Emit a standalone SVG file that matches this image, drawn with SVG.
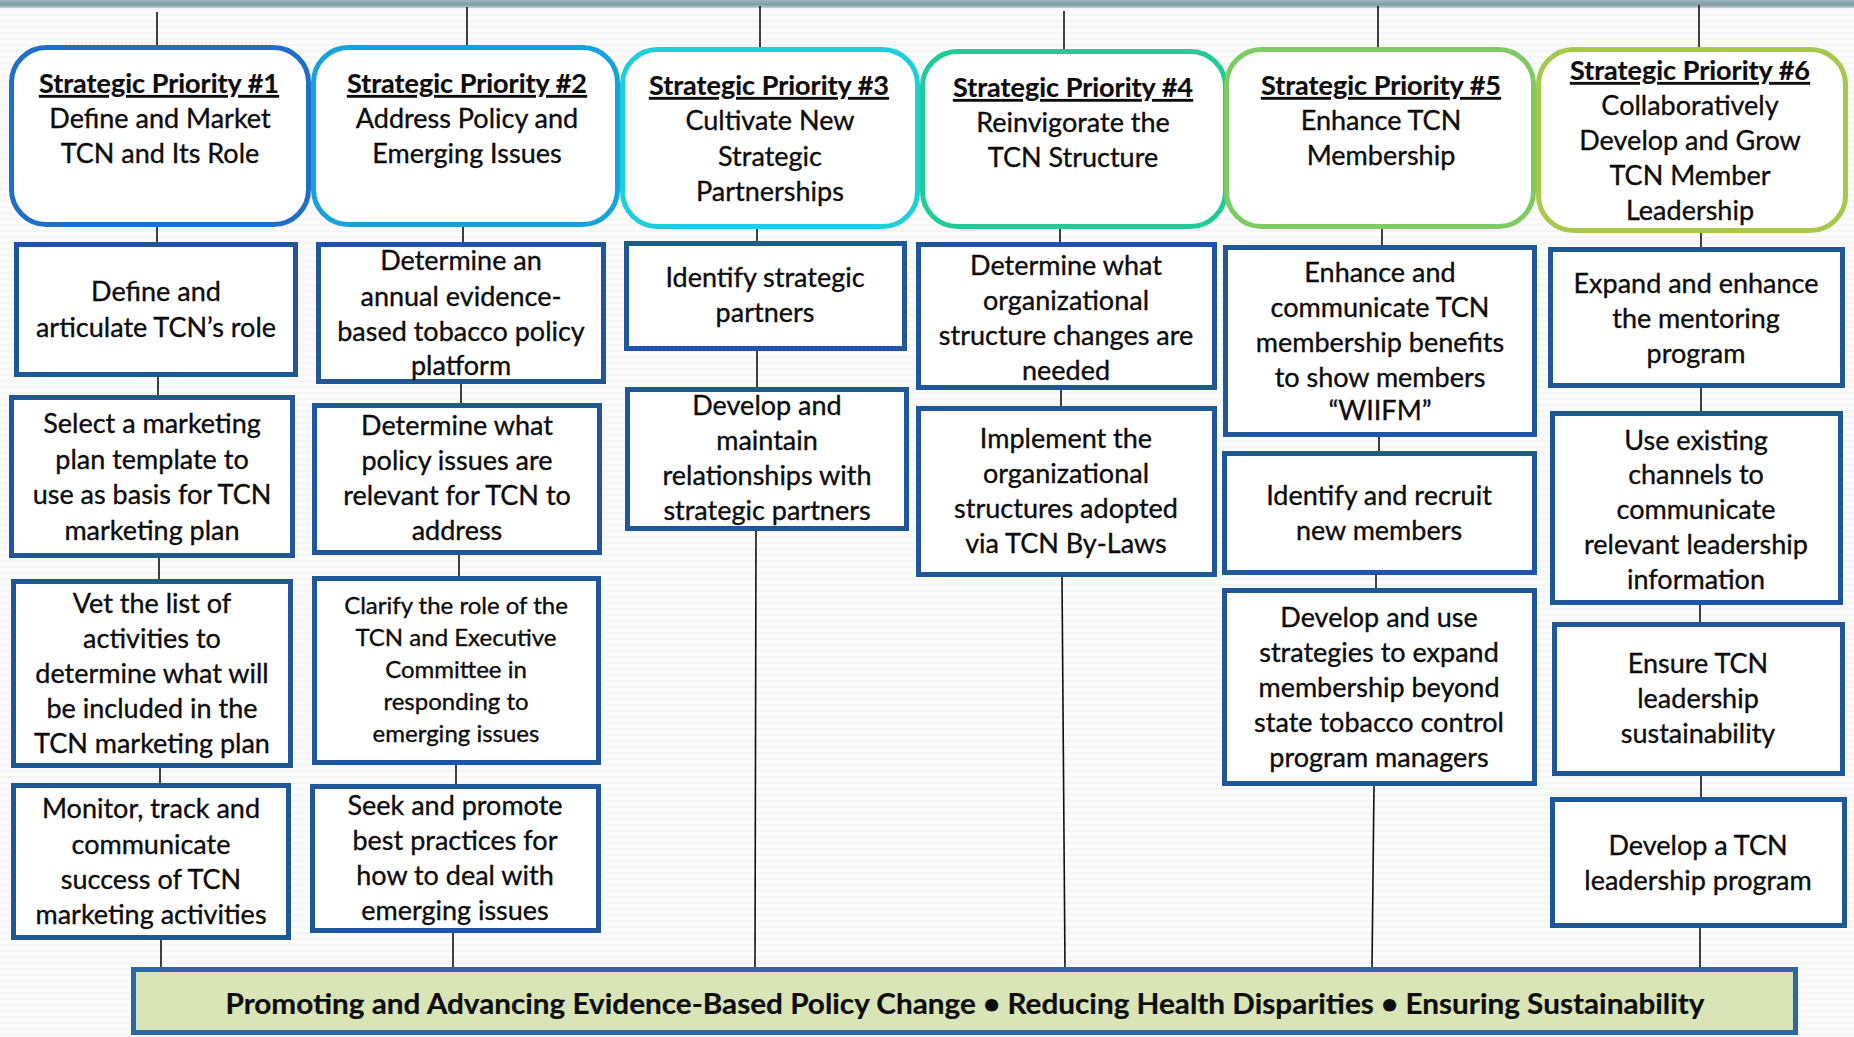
<svg xmlns="http://www.w3.org/2000/svg" width="1854" height="1037" viewBox="0 0 1854 1037">
<defs>
<pattern id="wave" width="8" height="6" patternUnits="userSpaceOnUse">
<path d="M0 4 L2 2 L4 4 L6 2 L8 4" fill="none" stroke="#ececec" stroke-width="0.8"/>
</pattern>
<linearGradient id="topbar" x1="0" y1="0" x2="0" y2="1">
<stop offset="0" stop-color="#9fb6bd"/>
<stop offset="0.6" stop-color="#7e9ca6"/>
<stop offset="1" stop-color="#c6d4d8"/>
</linearGradient>
<style>
.t{font-family:Lato,"Open Sans","Liberation Sans",sans-serif;font-size:27px;fill:#0d0d0d;stroke:#0d0d0d;stroke-width:0.35;text-anchor:middle}
.s{font-size:24px}
.h{font-weight:bold;text-decoration:underline;stroke-width:0.2}
.b{font-weight:bold;font-size:28.5px;stroke-width:0.2}
.sp{fill:#fff;stroke-width:5}
.act{fill:#fff;stroke:#1f5798;stroke-width:5}
.ban{fill:#d9e5b6;stroke:#2d68a5;stroke-width:5}
.c line{stroke:#111;stroke-width:1.6}
</style>
</defs>
<rect width="1854" height="1037" fill="#fbfbfb"/>
<rect width="1854" height="1037" fill="url(#wave)"/>
<rect width="1854" height="8" fill="url(#topbar)"/>

<g id="connectors" class="c">
<line x1="157" y1="12" x2="157" y2="46"/>
<line x1="157" y1="226" x2="157" y2="243"/>
<line x1="158" y1="376" x2="158" y2="396"/>
<line x1="159" y1="557" x2="159" y2="580"/>
<line x1="160" y1="767" x2="160" y2="784"/>
<line x1="161" y1="939" x2="161" y2="968"/>
<line x1="467" y1="7" x2="467" y2="46"/>
<line x1="463" y1="226" x2="463" y2="243"/>
<line x1="461" y1="383" x2="461" y2="404"/>
<line x1="459" y1="554" x2="459" y2="577"/>
<line x1="456" y1="764" x2="456" y2="785"/>
<line x1="453" y1="932" x2="453" y2="968"/>
<line x1="760" y1="6" x2="760" y2="48"/>
<line x1="757" y1="228" x2="757" y2="242"/>
<line x1="757" y1="350" x2="757" y2="388"/>
<line x1="756" y1="530" x2="755" y2="968"/>
<line x1="1064" y1="11" x2="1064" y2="50"/>
<line x1="1060" y1="228" x2="1060" y2="243"/>
<line x1="1061" y1="389" x2="1061" y2="407"/>
<line x1="1062" y1="576" x2="1065" y2="968"/>
<line x1="1378" y1="6" x2="1378" y2="48"/>
<line x1="1382" y1="228" x2="1382" y2="246"/>
<line x1="1379" y1="436" x2="1379" y2="452"/>
<line x1="1376" y1="574" x2="1376" y2="589"/>
<line x1="1374" y1="785" x2="1372" y2="968"/>
<line x1="1699" y1="5" x2="1699" y2="48"/>
<line x1="1701" y1="232" x2="1701" y2="248"/>
<line x1="1701" y1="387" x2="1701" y2="412"/>
<line x1="1700" y1="604" x2="1700" y2="623"/>
<line x1="1701" y1="775" x2="1701" y2="798"/>
<line x1="1700" y1="927" x2="1700" y2="968"/>
</g>

<g id="sp1">
<rect class="sp" x="11.5" y="47.5" width="297" height="177" rx="35" stroke="#1e6fc5"/>
<text class="t h" x="159" y="93">Strategic Priority #1</text>
<text class="t" x="160" y="128">Define and Market</text>
<text class="t" x="160" y="163">TCN and Its Role</text>
</g>
<g id="sp2">
<rect class="sp" x="313.5" y="47.5" width="304" height="177" rx="35" stroke="#18a2dc"/>
<text class="t h" x="467" y="93">Strategic Priority #2</text>
<text class="t" x="467" y="128">Address Policy and</text>
<text class="t" x="467" y="163">Emerging Issues</text>
</g>
<g id="sp3">
<rect class="sp" x="622.5" y="49.5" width="295" height="177" rx="35" stroke="#1dcedb"/>
<text class="t h" x="769" y="95">Strategic Priority #3</text>
<text class="t" x="770" y="130">Cultivate New</text>
<text class="t" x="770" y="166">Strategic</text>
<text class="t" x="770" y="201">Partnerships</text>
</g>
<g id="sp4">
<rect class="sp" x="922.5" y="51.5" width="303" height="175" rx="35" stroke="#21cb98"/>
<text class="t h" x="1073" y="97">Strategic Priority #4</text>
<text class="t" x="1073" y="132">Reinvigorate the</text>
<text class="t" x="1073" y="167">TCN Structure</text>
</g>
<g id="sp5">
<rect class="sp" x="1226.5" y="49.5" width="307" height="177" rx="35" stroke="#7dcb63"/>
<text class="t h" x="1381" y="95">Strategic Priority #5</text>
<text class="t" x="1381" y="130">Enhance TCN</text>
<text class="t" x="1381" y="165">Membership</text>
</g>
<g id="sp6">
<rect class="sp" x="1538.5" y="49.5" width="307" height="181" rx="35" stroke="#a8c84b"/>
<text class="t h" x="1690" y="80">Strategic Priority #6</text>
<text class="t" x="1690" y="115">Collaboratively</text>
<text class="t" x="1690" y="150">Develop and Grow</text>
<text class="t" x="1690" y="185">TCN Member</text>
<text class="t" x="1690" y="220">Leadership</text>
</g>

<g id="a1">
<rect class="act" x="16.5" y="244.5" width="279" height="130"/>
<text class="t" x="156" y="301">Define and</text>
<text class="t" x="156" y="337">articulate TCN’s role</text>
</g>
<g id="a2">
<rect class="act" x="11.5" y="397.5" width="281" height="158"/>
<text class="t" x="152" y="433">Select a marketing</text>
<text class="t" x="152" y="469">plan template to</text>
<text class="t" x="152" y="504">use as basis for TCN</text>
<text class="t" x="152" y="540">marketing plan</text>
</g>
<g id="a3">
<rect class="act" x="13.5" y="581.5" width="277" height="184"/>
<text class="t" x="152" y="613">Vet the list of</text>
<text class="t" x="152" y="648">activities to</text>
<text class="t" x="152" y="683">determine what will</text>
<text class="t" x="152" y="718">be included in the</text>
<text class="t" x="152" y="753">TCN marketing plan</text>
</g>
<g id="a4">
<rect class="act" x="13.5" y="785.5" width="275" height="152"/>
<text class="t" x="151" y="818">Monitor, track and</text>
<text class="t" x="151" y="854">communicate</text>
<text class="t" x="151" y="889">success of TCN</text>
<text class="t" x="151" y="924">marketing activities</text>
</g>

<g id="b1">
<rect class="act" x="318.5" y="244.5" width="285" height="137"/>
<text class="t" x="461" y="270">Determine an</text>
<text class="t" x="461" y="306">annual evidence-</text>
<text class="t" x="461" y="341">based tobacco policy</text>
<text class="t" x="461" y="375">platform</text>
</g>
<g id="b2">
<rect class="act" x="314.5" y="405.5" width="285" height="147"/>
<text class="t" x="457" y="435">Determine what</text>
<text class="t" x="457" y="470">policy issues are</text>
<text class="t" x="457" y="505">relevant for TCN to</text>
<text class="t" x="457" y="540">address</text>
</g>
<g id="b3">
<rect class="act" x="314.5" y="578.5" width="284" height="184"/>
<text class="t s" x="456" y="614">Clarify the role of the</text>
<text class="t s" x="456" y="646">TCN and Executive</text>
<text class="t s" x="456" y="678">Committee in</text>
<text class="t s" x="456" y="710">responding to</text>
<text class="t s" x="456" y="742">emerging issues</text>
</g>
<g id="b4">
<rect class="act" x="312.5" y="786.5" width="286" height="144"/>
<text class="t" x="455" y="815">Seek and promote</text>
<text class="t" x="455" y="850">best practices for</text>
<text class="t" x="455" y="885">how to deal with</text>
<text class="t" x="455" y="920">emerging issues</text>
</g>

<g id="c1">
<rect class="act" x="626.5" y="243.5" width="278" height="105"/>
<text class="t" x="765" y="287">Identify strategic</text>
<text class="t" x="765" y="322">partners</text>
</g>
<g id="c2">
<rect class="act" x="627.5" y="389.5" width="279" height="139"/>
<text class="t" x="767" y="415">Develop and</text>
<text class="t" x="767" y="450">maintain</text>
<text class="t" x="767" y="485">relationships with</text>
<text class="t" x="767" y="520">strategic partners</text>
</g>

<g id="d1">
<rect class="act" x="918.5" y="244.5" width="296" height="143"/>
<text class="t" x="1066" y="275">Determine what</text>
<text class="t" x="1066" y="310">organizational</text>
<text class="t" x="1066" y="345">structure changes are</text>
<text class="t" x="1066" y="380">needed</text>
</g>
<g id="d2">
<rect class="act" x="918.5" y="408.5" width="296" height="166"/>
<text class="t" x="1066" y="448">Implement the</text>
<text class="t" x="1066" y="483">organizational</text>
<text class="t" x="1066" y="518">structures adopted</text>
<text class="t" x="1066" y="553">via TCN By-Laws</text>
</g>

<g id="e1">
<rect class="act" x="1225.5" y="247.5" width="309" height="187"/>
<text class="t" x="1380" y="282">Enhance and</text>
<text class="t" x="1380" y="317">communicate TCN</text>
<text class="t" x="1380" y="352">membership benefits</text>
<text class="t" x="1380" y="387">to show members</text>
<text class="t" x="1380" y="420">“WIIFM”</text>
</g>
<g id="e2">
<rect class="act" x="1224.5" y="453.5" width="310" height="119"/>
<text class="t" x="1379" y="505">Identify and recruit</text>
<text class="t" x="1379" y="540">new members</text>
</g>
<g id="e3">
<rect class="act" x="1224.5" y="590.5" width="310" height="193"/>
<text class="t" x="1379" y="627">Develop and use</text>
<text class="t" x="1379" y="662">strategies to expand</text>
<text class="t" x="1379" y="697">membership beyond</text>
<text class="t" x="1379" y="732">state tobacco control</text>
<text class="t" x="1379" y="767">program managers</text>
</g>

<g id="f1">
<rect class="act" x="1550.5" y="249.5" width="292" height="136"/>
<text class="t" x="1696" y="293">Expand and enhance</text>
<text class="t" x="1696" y="328">the mentoring</text>
<text class="t" x="1696" y="363">program</text>
</g>
<g id="f2">
<rect class="act" x="1552.5" y="413.5" width="288" height="189"/>
<text class="t" x="1696" y="450">Use existing</text>
<text class="t" x="1696" y="484">channels to</text>
<text class="t" x="1696" y="519">communicate</text>
<text class="t" x="1696" y="554">relevant leadership</text>
<text class="t" x="1696" y="589">information</text>
</g>
<g id="f3">
<rect class="act" x="1554.5" y="624.5" width="288" height="149"/>
<text class="t" x="1698" y="673">Ensure TCN</text>
<text class="t" x="1698" y="708">leadership</text>
<text class="t" x="1698" y="743">sustainability</text>
</g>
<g id="f4">
<rect class="act" x="1552.5" y="799.5" width="292" height="126"/>
<text class="t" x="1698" y="855">Develop a TCN</text>
<text class="t" x="1698" y="890">leadership program</text>
</g>

<g id="banner">
<rect class="ban" x="133.5" y="969.5" width="1662" height="63"/>
<text class="t b" x="965" y="1014" textLength="1479" lengthAdjust="spacingAndGlyphs">Promoting and Advancing Evidence-Based Policy Change • Reducing Health Disparities • Ensuring Sustainability</text>
</g>
</svg>
